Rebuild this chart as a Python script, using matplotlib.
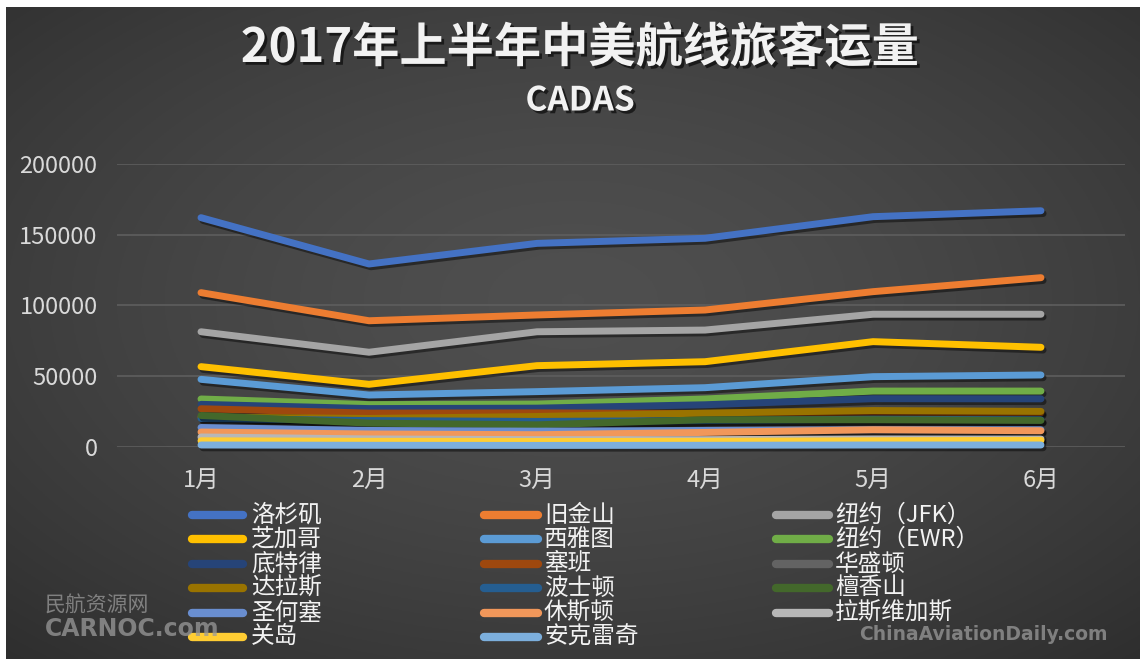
import numpy as np
import matplotlib
matplotlib.use("Agg")
import matplotlib.pyplot as plt
import matplotlib.patheffects as pe
from matplotlib.lines import Line2D

plt.rcParams['font.family'] = ['Noto Sans CJK SC', 'DejaVu Sans']

# ---- data ----
months = ['1月', '2月', '3月', '4月', '5月', '6月']
cities = ['洛杉矶', '旧金山', '纽约（JFK）', '芝加哥', '西雅图', '纽约（EWR）',
          '底特律', '塞班', '华盛顿', '达拉斯', '波士顿', '檀香山',
          '圣何塞', '休斯顿', '拉斯维加斯', '关岛', '安克雷奇']
la = [162200, 129400, 144000, 147600, 162900, 167100]
sf = [109100, 89200, 93300, 96800, 109800, 119700]
jfk = [81400, 66900, 81400, 82600, 93800, 93800]
chicago = [56700, 44200, 57400, 60200, 74400, 70400]
seattle = [47700, 36600, 39000, 41800, 49600, 50800]
ewr = [33800, 29800, 30200, 33800, 39400, 39400]
detroit = [30000, 27000, 27300, 29700, 34000, 33900]
saipan = [26900, 23800, 24000, 23500, 24500, 24000]
washington = [6000, 6000, 6500, 7000, 7300, 7300]
dallas = [21000, 20000, 21400, 23800, 25600, 25000]
boston = [20000, 18500, 17900, 18500, 19500, 19000]
honolulu = [22100, 16700, 15500, 19100, 19100, 18600]
sanjose = [13600, 11500, 11000, 11500, 12000, 12000]
houston = [10400, 9000, 8500, 10100, 12000, 11300]
lasvegas = [6900, 5500, 5000, 5000, 5500, 5400]
guam = [4200, 3800, 3700, 3800, 4200, 4500]
anchorage = [1200, 1000, 900, 1000, 1200, 1200]
series = [la, sf, jfk, chicago, seattle, ewr, detroit, saipan, washington,
          dallas, boston, honolulu, sanjose, houston, lasvegas, guam, anchorage]
colors = ['#4472C4', '#ED7D31', '#A5A5A5', '#FFC000', '#5B9BD5', '#70AD47',
          '#264478', '#9E480E', '#636363', '#997300', '#255E91', '#43682B',
          '#698ED0', '#F1975A', '#B7B7B7', '#FFCD33', '#7CAFDD']
yticks = [0, 50000, 100000, 150000, 200000]

W, H = 1140, 659
fig = plt.figure(figsize=(W / 100, H / 100), dpi=100, facecolor='white')

# background with radial gradient
bg = fig.add_axes([6 / W, 0, 1 - 6 / W, 1 - 7 / H], zorder=-10)
yy, xx = np.mgrid[0:1:300j, 0:1:500j]
r = np.sqrt(((xx - 0.5) / 0.75) ** 2 + ((yy - 0.55) / 0.75) ** 2)
r = np.clip(r, 0, 1)
v = 0.31 - 0.13 * r ** 1.5
bg.imshow(np.dstack([v, v, v]), aspect='auto', extent=[0, 1, 0, 1], origin='lower')
bg.axis('off')

# main axes
left, right = 117 / W, 1125 / W
bottom, top = 1 - 446.7 / H, 1 - 164.3 / H
ax = fig.add_axes([left, bottom, right - left, top - bottom])
ax.set_facecolor('none')
x = np.arange(len(months))
for i, (vals, c) in enumerate(zip(series, colors)):
    ax.plot(x, vals, color=c, lw=5, solid_capstyle='round', solid_joinstyle='round',
            zorder=3 + i, clip_on=False,
            path_effects=[pe.SimpleLineShadow(offset=(1.5, -2), shadow_color='black', alpha=0.45),
                          pe.Normal()])
ax.set_xlim(-0.5, 5.5)
ax.set_ylim(0, 200000)
ax.set_yticks(yticks)
ax.set_yticklabels([str(t) for t in yticks])
ax.set_xticks(x)
ax.set_xticklabels(months)
ax.tick_params(axis='both', length=0, colors='#D9D9D9', labelsize=17)
ax.tick_params(axis='y', pad=14)
ax.tick_params(axis='x', pad=16)
ax.grid(axis='y', color='#5E5E5E', lw=1.2, zorder=0)
for s in ax.spines.values():
    s.set_visible(False)

# title
shadow = [pe.withSimplePatchShadow(offset=(2, -2), shadow_rgbFace='black', alpha=0.6)]
fig.text(580 / W, 1 - 48 / H, '2017年上半年中美航线旅客运量', ha='center', va='center',
         fontsize=34, fontweight='bold', color='#F2F2F2', path_effects=shadow)
fig.text(580 / W, 1 - 101 / H, 'CADAS', ha='center', va='center',
         fontsize=24, fontweight='bold', color='#F2F2F2', path_effects=shadow)

# legend: row-major order in 3 columns
col_handle = [(192, 243), (484, 538), (776, 829)]
col_text = [251, 544, 835]
row_y = [515, 539, 564, 588, 613, 637]
for i, (name, c) in enumerate(zip(cities, colors)):
    row, col = divmod(i, 3)
    yf = 1 - row_y[row] / H
    x0, x1 = col_handle[col]
    fig.add_artist(Line2D([x0 / W, x1 / W], [yf, yf], transform=fig.transFigure,
                          color=c, lw=6, solid_capstyle='round'))
    fig.text(col_text[col] / W, yf, name, ha='left', va='center', fontsize=17,
             color='#F2F2F2')

# watermarks
fig.text(45 / W, 1 - 606 / H, '民航资源网', fontsize=15, color='#9A9A9A', alpha=0.75,
         ha='left', va='center')
fig.text(45 / W, 1 - 629 / H, 'CARNOC.com', fontsize=17, fontweight='bold',
         color='#9A9A9A', alpha=0.75, ha='left', va='center', family='DejaVu Sans')
fig.text(1108 / W, 1 - 634 / H, 'ChinaAviationDaily.com', fontsize=13.5, fontweight='bold',
         color='#9A9A9A', alpha=0.75, ha='right', va='center', family='DejaVu Sans')

fig.savefig('out.png', dpi=100, facecolor=fig.get_facecolor())
